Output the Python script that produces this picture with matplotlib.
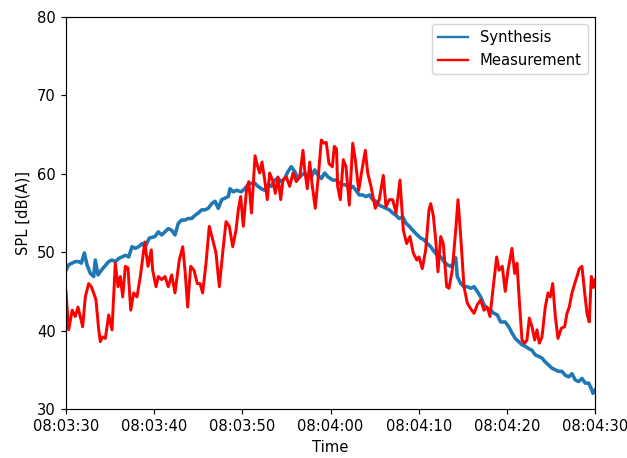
import numpy as np
import pandas as pd
import matplotlib
matplotlib.use('Agg')
import matplotlib.pyplot as plt
import matplotlib.dates as mdates

# seconds after 08:03:30 and SPL in dB(A)
syn_t = [0.0, 0.31, 0.68, 1.05, 1.44, 1.74, 2.08, 2.38, 2.76, 3.14, 3.32, 3.63, 4.00, 4.39,
         4.84, 5.22, 5.59, 5.98, 6.35, 6.73, 7.11, 7.49, 7.86, 8.25, 8.62, 8.99, 9.45,
         10.09, 10.47, 10.85, 11.23, 11.60, 11.99, 12.36, 12.74, 13.12, 13.50, 13.87, 14.26,
         14.63, 15.01, 15.39, 15.77, 16.14, 16.53, 16.90, 17.27, 17.66, 18.03, 18.41, 18.60,
         18.97, 19.36,
         19.88, 20.27, 20.64, 21.02, 21.40, 21.78, 22.15, 22.54, 22.91, 23.28, 23.67, 24.04,
         24.42, 24.80, 25.18, 25.55, 25.94, 26.31, 26.69, 27.07, 27.45, 27.82, 28.21, 28.58,
         28.96, 29.34,
         29.72, 30.25, 30.62, 31.00, 31.38, 31.76, 32.13, 32.52, 32.89, 33.27, 33.65, 34.03,
         34.40, 34.79, 35.16, 35.53, 35.92, 36.29, 36.67, 37.05, 37.43, 37.80, 38.19, 38.56,
         38.94, 39.32,
         39.84, 40.23, 40.60, 40.98, 41.36, 41.74, 42.11, 42.50, 42.87, 43.25, 43.63, 44.01,
         44.20, 44.38, 44.77, 45.14, 45.52, 45.90, 46.28, 46.65, 47.03, 47.41, 47.78, 48.17,
         48.54, 48.92, 49.30,
         49.82, 50.21, 50.58, 50.96, 51.34, 51.72, 52.09, 52.48, 52.85, 53.23, 53.61, 53.99,
         54.36, 54.75, 55.12, 55.50, 55.88, 56.25, 56.63, 57.01, 57.39, 57.76, 58.15, 58.52,
         58.90, 59.28, 59.58, 59.77, 60.0]
syn_db = [47.7, 48.4, 48.6, 48.8, 48.8, 48.6, 49.9, 48.4, 47.3, 46.9, 49.0, 47.1, 47.7, 48.2,
          48.8, 49.0, 48.8, 49.2, 49.4, 49.6, 49.4, 50.7, 50.5, 50.7, 51.1, 50.7, 51.8,
          52.0, 52.6, 52.2, 52.6, 53.0, 52.8, 52.2, 53.7, 54.1, 54.1, 54.3, 54.3,
          54.7, 55.0, 55.4, 55.4, 55.6, 56.2, 56.5, 55.6, 56.7, 56.9, 57.1, 58.1,
          57.7, 57.9,
          57.7, 58.1, 58.6, 58.8, 58.8, 58.4, 58.1, 57.9, 58.6, 58.4, 59.2, 59.4,
          59.0, 59.4, 60.3, 60.9, 60.3, 59.4, 59.8, 60.1, 59.6, 59.6, 60.5, 59.8,
          59.4, 60.1,
          59.6, 59.2, 59.2, 58.8, 58.6, 58.6, 58.1, 58.4, 57.9, 57.3, 57.3, 57.1,
          57.3, 56.7, 56.5, 56.0, 55.8, 55.6, 55.4, 55.0, 54.7, 54.3, 54.5, 53.7,
          53.3, 52.8,
          52.2, 51.8, 51.6, 51.1, 50.7, 50.1, 49.6, 49.4, 48.8, 48.4, 48.2, 48.6,
          49.3, 46.9, 46.0, 45.6, 45.6, 45.4, 45.6, 45.0, 44.3, 43.3, 42.8, 42.6,
          42.2, 42.0, 41.1,
          41.1, 40.5, 39.7, 39.0, 38.6, 38.2, 38.0, 37.7, 37.5, 36.9, 36.7, 36.5,
          36.0, 35.6, 35.2, 35.0, 34.8, 34.8, 34.3, 34.1, 34.5, 33.7, 33.5, 33.9,
          33.3, 33.3, 32.6, 32.0, 32.4]

meas_t = [0.0, 0.3, 0.7, 1.05, 1.36, 1.62, 1.89, 2.19, 2.57, 2.87, 3.14, 3.40, 3.71, 3.89,
          4.16, 4.46, 4.84, 5.22, 5.59, 5.90, 6.16, 6.43, 6.73, 7.03, 7.34, 7.68, 8.05,
          8.43, 8.93, 9.30, 9.67, 9.83, 10.21, 10.47, 10.85, 11.23, 11.60, 11.99, 12.36,
          12.85, 13.24, 13.50, 13.80, 14.14, 14.52, 14.89, 15.20, 15.50, 15.88, 16.25,
          16.64, 17.01, 17.39, 17.77, 18.15, 18.52, 18.91, 19.28, 19.54, 19.81, 20.11,
          20.47, 20.72, 21.04, 21.44, 21.72, 21.97, 22.23, 22.54, 22.83, 23.10, 23.48,
          23.74, 24.04, 24.35, 24.61, 24.99, 25.37, 25.75, 26.12, 26.51, 26.88, 27.07,
          27.37, 27.64, 27.90, 28.27, 28.58, 28.96, 29.26, 29.52, 29.83, 30.21, 30.43,
          30.68, 30.81, 31.11, 31.45, 31.76, 32.13, 32.52, 32.81, 33.20, 33.57, 33.95,
          34.22, 34.59, 35.08, 35.53, 35.99, 36.29, 36.67, 37.05, 37.43, 37.88, 38.26,
          38.64, 39.01, 39.39, 39.78, 40.04, 40.41, 40.80, 41.17, 41.36, 41.66, 41.93,
          42.19, 42.50, 42.79, 43.18, 43.44, 43.81, 44.20, 44.46, 44.77, 45.14, 45.52,
          45.90, 46.28, 46.65, 47.03, 47.41, 47.78, 48.09, 48.46, 48.85, 49.11, 49.48,
          49.82, 50.13, 50.58, 50.89, 51.15, 51.41, 51.72, 52.02, 52.28, 52.55, 52.85,
          53.16, 53.42, 53.68, 53.99, 54.36, 54.67, 54.93, 55.20, 55.50, 55.80, 56.18,
          56.56, 56.82, 57.08, 57.39, 57.70, 57.96, 58.22, 58.52, 58.83, 59.09, 59.35,
          59.58, 59.83, 60.0]
meas_db = [45.0, 40.1, 42.6, 41.8, 43.0, 41.8, 40.5, 44.3, 46.0, 45.6, 44.8, 43.9, 40.1, 38.6,
           39.2, 39.0, 42.0, 40.1, 48.6, 45.6, 46.9, 44.3, 48.2, 48.0, 42.6, 44.8, 44.3,
           46.9, 51.3, 48.2, 50.3, 47.7, 45.6, 46.9, 46.5, 46.9, 45.6, 47.1, 44.8,
           49.0, 50.7, 47.7, 43.0, 48.2, 47.7, 46.0, 46.0, 44.8, 48.6, 53.3,
           51.6, 49.9, 45.6, 49.9, 53.9, 53.3, 50.7, 52.8, 55.4, 57.1, 53.3,
           57.9, 59.0, 55.0, 62.3, 61.0, 60.1, 61.5, 59.2, 56.7, 60.1, 59.0,
           57.5, 59.6, 56.7, 59.2, 59.6, 58.4, 60.1, 59.0, 59.6, 63.0, 60.5,
           58.1, 61.5, 58.8, 55.6, 59.2, 64.3, 63.9, 64.0, 61.3, 60.9, 63.5,
           63.2, 58.4, 56.7, 61.8, 60.9, 56.0, 63.9, 61.8, 57.9, 60.5, 63.0,
           60.1, 58.4, 55.6, 56.7, 59.8, 55.8, 56.7, 56.7, 55.0, 59.2, 52.8,
           51.1, 52.0, 49.9, 49.0, 49.4, 47.9, 50.3, 55.4, 56.2, 54.7, 51.6,
           47.5, 52.0, 51.1, 45.6, 45.4, 47.7, 52.8, 56.7, 52.0, 45.6, 43.5,
           42.8, 42.2, 43.3, 43.9, 42.6, 43.0, 41.8, 45.6, 49.4, 47.7, 48.2,
           45.0, 47.7, 50.5, 47.3, 48.6, 43.9, 38.8, 38.4, 38.8, 41.6, 40.5,
           38.8, 40.1, 38.4, 39.2, 43.0, 44.8, 44.3, 46.0, 41.8, 39.0, 40.3,
           40.5, 42.2, 43.0, 44.8, 46.0, 46.9, 47.9, 48.2, 44.8, 42.2, 41.1,
           46.9, 45.5, 46.5]

start = pd.Timestamp('2021-01-01 08:03:30')
syn_time = start + pd.to_timedelta(syn_t, unit='s')
meas_time = start + pd.to_timedelta(meas_t, unit='s')

dpi = 106.5
fig = plt.figure(figsize=(627 / dpi, 458 / dpi), dpi=dpi)
ax = fig.add_axes([66 / 627, 49 / 458, 529 / 627, 392 / 458])

ax.plot(syn_time, syn_db, color='tab:blue', lw=2.4, label='Synthesis')
ax.plot(meas_time, meas_db, color='red', lw=2.0, label='Measurement')

ax.set_xlim(start, start + pd.Timedelta(seconds=60))
ax.set_ylim(30, 80)
ax.xaxis.set_major_locator(mdates.SecondLocator(bysecond=range(0, 60, 10)))
ax.xaxis.set_major_formatter(mdates.DateFormatter('%H:%M:%S'))
ax.set_xlabel('Time')
ax.set_ylabel('SPL [dB(A)]')
leg = ax.legend(loc='upper right')
for h in leg.get_lines():
    h.set_linewidth(1.6)

fig.savefig('out.png', dpi=dpi)
